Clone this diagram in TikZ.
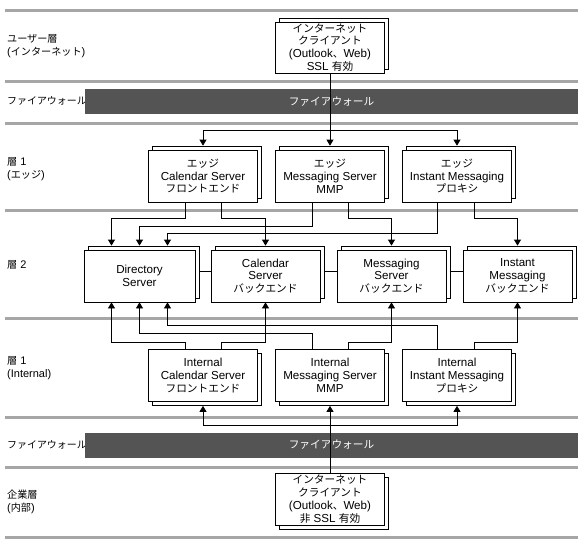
\documentclass[tikz,border=0pt]{standalone}
\usepackage{fontspec}
\setmainfont{Liberation Sans}
\newfontfamily\jp[Scale=0.92]{Noto Sans CJK JP}
\usetikzlibrary{arrows.meta,shadows}
\tikzset{
  srvbox/.style={rectangle,draw,fill=white,line width=0.7pt,minimum width=109pt,minimum height=52pt,inner sep=0pt,align=center,font=\fontsize{11.6}{12.8}\selectfont},
  upshadow/.style={copy shadow={shadow xshift=4pt,shadow yshift=4pt,fill=white,draw=black,line width=0.7pt}},
  downshadow/.style={copy shadow={shadow xshift=4pt,shadow yshift=-4pt,fill=white,draw=black,line width=0.7pt}},
  tierline/.style={line width=3pt,draw=black!35},
  fwbar/.style={fill=black!67,draw=none,text=white,minimum width=493pt,minimum height=25pt,inner sep=0pt,font=\fontsize{11.6}{12.8}\selectfont},
  tierlabel/.style={anchor=west,align=left,inner sep=0pt,font=\fontsize{11}{13.5}\selectfont},
  link/.style={line width=0.7pt},
  arr/.style={link,-{Triangle[width=7pt,length=6pt]}}
}

\begin{document}
\begin{tikzpicture}[x=1pt,y=-1pt]
  \useasboundingbox (0,0) rectangle (584,544);
  % tier separators
  \foreach \y in {10,81,123,210,318,417,467,537}
    \draw[tierline] (5,\y) -- (578,\y);

  % left labels
  \node[tierlabel] (luser) at (7,46) {{\jp ユーザー層}\\({\jp インターネット})};
  \node[tierlabel,font=\fontsize{10.8}{12}\selectfont] (lfw1) at (7,101) {\jp ファイアウォール};
  \node[tierlabel] (ledge) at (7,169) {{\jp 層} 1\\({\jp エッジ})};
  \node[tierlabel] (ltwo) at (7,265) {{\jp 層} 2};
  \node[tierlabel] (lint) at (7,368) {{\jp 層} 1\\(Internal)};
  \node[tierlabel,font=\fontsize{10.8}{12}\selectfont] (lfw2) at (7,445) {\jp ファイアウォール};
  \node[tierlabel] (lcorp) at (7,502) {{\jp 企業層}\\({\jp 内部})};

  % firewalls
  \node[fwbar] (fw1) at (331.5,101.5) {\jp ファイアウォール};
  \node[fwbar] (fw2) at (331.5,445) {\jp ファイアウォール};

  % clients
  \node[srvbox,upshadow,minimum height=51pt] (inet) at (330,47.5) {{\jp インターネット}\\{\jp クライアント}\\(Outlook{\jp 、}Web)\\SSL {\jp 有効}};
  \node[srvbox,downshadow,minimum height=52pt] (corp) at (330,499) {{\jp インターネット}\\{\jp クライアント}\\(Outlook{\jp 、}Web)\\{\jp 非} SSL {\jp 有効}};

  % tier 1 edge
  \node[srvbox,upshadow] (ecal) at (203,176) {{\jp エッジ}\\Calendar Server\\{\jp フロントエンド}};
  \node[srvbox,upshadow] (emsg) at (330,176) {{\jp エッジ}\\Messaging Server\\MMP};
  \node[srvbox,upshadow] (eim) at (457,176) {{\jp エッジ}\\Instant Messaging\\{\jp プロキシ}};

  % tier 2
  \node[srvbox,upshadow,minimum width=111pt] (dir) at (139.5,276) {Directory\\Server};
  \node[srvbox,upshadow] (cal) at (265.5,276) {Calendar\\Server\\{\jp バックエンド}};
  \node[srvbox,upshadow] (msg) at (391.5,276) {Messaging\\Server\\{\jp バックエンド}};
  \node[srvbox,upshadow] (im) at (517.5,276) {Instant\\Messaging\\{\jp バックエンド}};

  % tier 1 internal
  \node[srvbox,downshadow] (ical) at (203,375.5) {Internal\\Calendar Server\\{\jp フロントエンド}};
  \node[srvbox,downshadow] (imsg) at (330,375.5) {Internal\\Messaging Server\\MMP};
  \node[srvbox,downshadow] (iim) at (457,375.5) {Internal\\Instant Messaging\\{\jp プロキシ}};

  \coordinate (tsplit) at (330,130);
  \coordinate (bsplit) at (330,425);

  % internet -> edge
  \draw[arr] (inet.south) -- ([yshift=4pt]emsg.north);
  \draw[arr] (tsplit) -| ([yshift=4pt]ecal.north);
  \draw[arr] (tsplit) -| ([yshift=4pt]eim.north);

  % edge -> tier 2
  \draw[arr] ([xshift=-18pt]ecal.south) -- ++(0,16) -| ([xshift=-28pt,yshift=4pt]dir.north);
  \draw[arr] ([xshift=18pt]ecal.south) -- ++(0,16) -| ([yshift=4pt]cal.north);
  \draw[arr] ([xshift=-18pt]emsg.south) -- ++(0,24) -| ([yshift=4pt]dir.north);
  \draw[arr] ([xshift=18pt]emsg.south) -- ++(0,16) -| ([yshift=4pt]msg.north);
  \draw[arr] ([xshift=-20pt]eim.south) -- ++(0,31) -| ([xshift=28pt,yshift=4pt]dir.north);
  \draw[arr] ([xshift=17pt]eim.south) -- ++(0,16) -| ([yshift=4pt]im.north);

  % tier 2 links
  \draw[link] ([xshift=4pt,yshift=5pt]dir.east) -- ([yshift=5pt]cal.west);
  \draw[link] ([xshift=4pt,yshift=5pt]cal.east) -- ([yshift=5pt]msg.west);
  \draw[link] ([xshift=4pt,yshift=5pt]msg.east) -- ([yshift=5pt]im.west);

  % internal -> tier 2
  \draw[arr] ([xshift=-18pt]ical.north) -- ++(0,-7) -| ([xshift=-28pt]dir.south);
  \draw[arr] ([xshift=18pt]ical.north) -- ++(0,-7) -| (cal.south);
  \draw[arr] ([xshift=-18pt]imsg.north) -- ++(0,-16) -| (dir.south);
  \draw[arr] ([xshift=18pt]imsg.north) -- ++(0,-7) -| (msg.south);
  \draw[arr] ([xshift=-20pt]iim.north) -- ++(0,-24) -| ([xshift=28pt]dir.south);
  \draw[arr] ([xshift=17pt]iim.north) -- ++(0,-7) -| (im.south);

  % corporate -> internal
  \draw[arr] (corp.north) -- ([yshift=-4pt]imsg.south);
  \draw[arr] (bsplit) -| ([yshift=-4pt]ical.south);
  \draw[arr] (bsplit) -| ([yshift=-4pt]iim.south);
\end{tikzpicture}
\end{document}
